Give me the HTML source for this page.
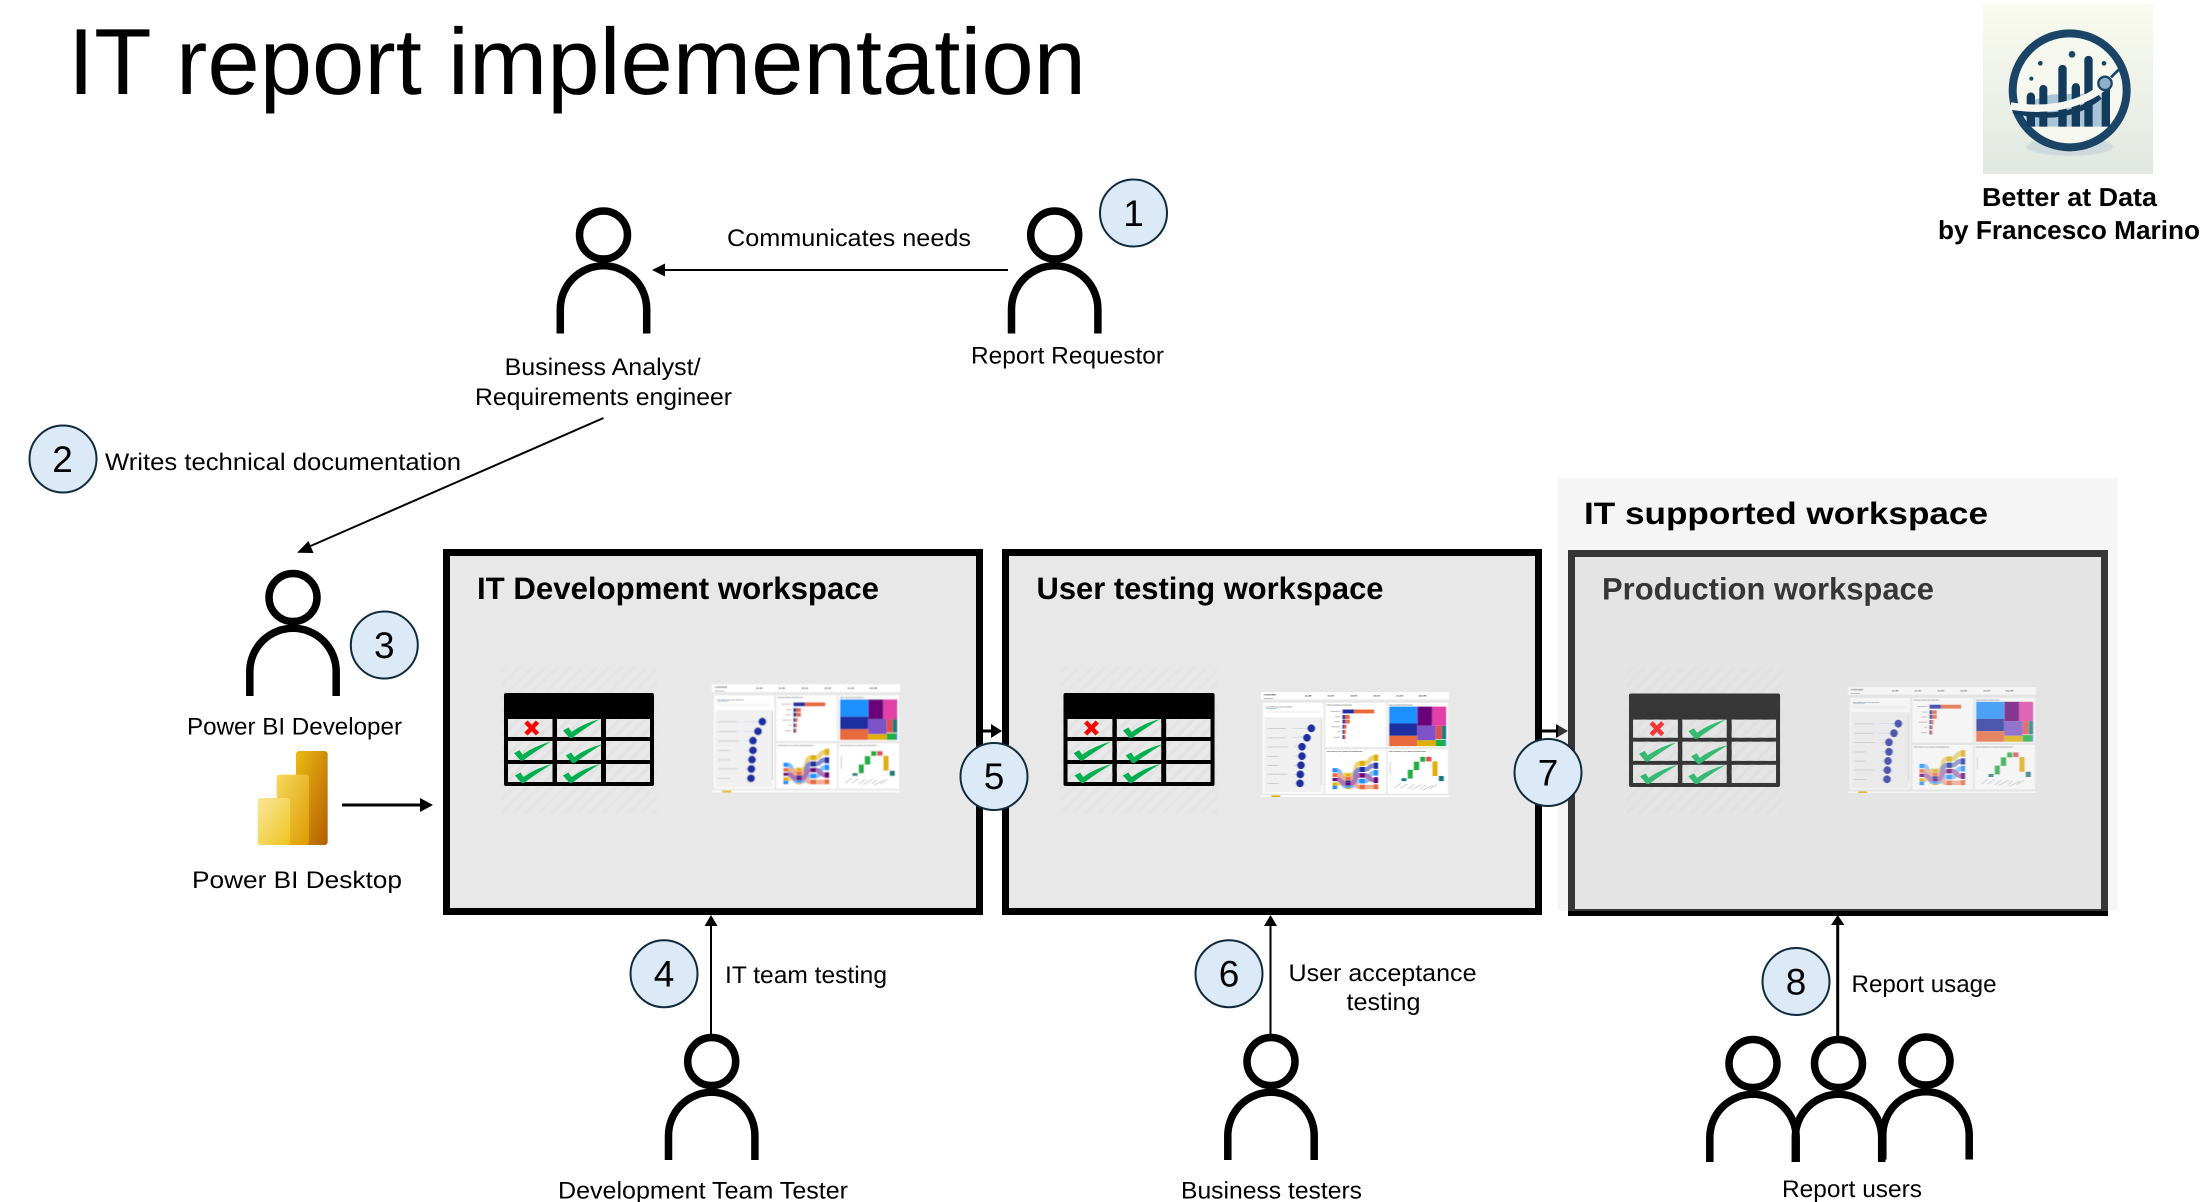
<!DOCTYPE html>
<html><head><meta charset="utf-8">
<style>
html,body{margin:0;padding:0;background:#fff;width:2206px;height:1202px;overflow:hidden}
svg{display:block}
text{font-family:"Liberation Sans",sans-serif;fill:#000;text-rendering:geometricPrecision}
.l{font-size:24px}
.h{font-size:31px;font-weight:bold}
.n{font-size:37px;text-anchor:middle}
.c{fill:#dce9f6;stroke:#0f2b3d;stroke-width:2}
.d{font-size:7px;fill:#333}
.b{font-weight:bold}
</style></head><body>
<svg width="2206" height="1202" viewBox="0 0 2206 1202" xmlns="http://www.w3.org/2000/svg">
<defs>
<pattern id="hatch" width="9" height="9" patternUnits="userSpaceOnUse" patternTransform="rotate(45)"><rect width="3.500" height="9" fill="#e2e2e2"/></pattern>
<filter id="soft" x="-5%" y="-5%" width="110%" height="110%"><feGaussianBlur stdDeviation="1.200"/></filter>
<linearGradient id="lg" x1="0" y1="0" x2="0" y2="1"><stop offset="0" stop-color="#fafbf0"/><stop offset="1" stop-color="#e1e8e1"/></linearGradient>
<linearGradient id="p1" x1="0" y1="0" x2="1" y2="1"><stop offset="0" stop-color="#ecbc14"/><stop offset="1" stop-color="#b35c00"/></linearGradient>
<linearGradient id="p2" x1="0" y1="0" x2="1" y2="1"><stop offset="0" stop-color="#f5d85c"/><stop offset="1" stop-color="#dd9a00"/></linearGradient>
<linearGradient id="p3" x1="0" y1="0" x2="1" y2="1"><stop offset="0" stop-color="#f9e79a"/><stop offset="1" stop-color="#efc41f"/></linearGradient>

<g id="person" fill="none" stroke="#000" stroke-width="7.5">
<circle cx="0" cy="0" r="24"/>
<path d="M-43.2 98.5V74A43.2 43.2 0 0 1 43.2 74V98.5"/>
</g>

<path id="tick" fill="#00b050" d="M0 11.5L5.5 8.5L8.5 13Q20 4.5 37 0Q23 8.5 9 19L6.5 19Z"/>
<g id="table">
<rect x="-3" y="-26" width="156" height="146" fill="url(#hatch)" opacity=".55"/>
<rect x="0" y="0" width="150" height="93" rx="2" fill="#000"/>
<g fill="#e9e9e9">
<rect x="4" y="26" width="44.5" height="18"/><rect x="53" y="26" width="44" height="18"/><rect x="102" y="26" width="44" height="18"/>
<rect x="4" y="48" width="44.5" height="19"/><rect x="53" y="48" width="44" height="19"/><rect x="102" y="48" width="44" height="19"/>
<rect x="4" y="71" width="44.5" height="18"/><rect x="53" y="71" width="44" height="18"/><rect x="102" y="71" width="44" height="18"/>
</g>
<g fill="url(#hatch)">
<rect x="4" y="26" width="44.5" height="18"/><rect x="53" y="26" width="44" height="18"/><rect x="102" y="26" width="44" height="18"/>
<rect x="4" y="48" width="44.5" height="19"/><rect x="53" y="48" width="44" height="19"/><rect x="102" y="48" width="44" height="19"/>
<rect x="4" y="71" width="44.5" height="18"/><rect x="53" y="71" width="44" height="18"/><rect x="102" y="71" width="44" height="18"/>
</g>
<path d="M22 29L33.500 41M33.500 29L22 41" stroke="#ff0000" stroke-width="4.500" fill="none"/>
<use href="#tick" x="59" y="26"/><use href="#tick" x="10" y="48.600"/><use href="#tick" x="61.700" y="51"/><use href="#tick" x="11" y="71"/><use href="#tick" x="59" y="71"/>
</g>

<g id="dash" filter="url(#soft)">
<rect x="66" y="43" width="564" height="23" fill="#fff"/>
<text x="74" y="54" class="d b" font-size="8">OVERVIEW</text><text x="74" y="64" class="d" style="font-size:5px">Sales Report</text>
<g class="d b"><text x="198" y="57" class="d b">$1.3M</text><text x="266" y="57" class="d b">$1.3M</text><text x="335" y="57" class="d b">$2.0M</text><text x="404" y="57" class="d b">$2.3M</text><text x="473" y="57" class="d b">$1.3M</text><text x="539" y="57" class="d b">$21.8M</text></g>
<g fill="#fff">
<rect x="72" y="76" width="181" height="280"/><rect x="259" y="76" width="182" height="137"/><rect x="446" y="76" width="181" height="137"/><rect x="259" y="220" width="182" height="136"/><rect x="446" y="220" width="181" height="136"/>
</g>
<rect x="66" y="362" width="564" height="5" fill="#fff"/><rect x="96" y="362" width="28" height="5" fill="#e0b000"/>
<text x="81" y="91" class="d" style="font-size:6px">Key influencers  Top segments</text>
<rect x="81" y="93" width="35" height="2" fill="#7db8e8"/>
<rect x="81" y="100" width="160" height="9" fill="#f5f5f5"/>
<rect x="76" y="120" width="172" height="232" fill="#f0f0f0"/>
<rect x="246" y="124" width="3" height="206" fill="#ccc"/>
<g fill="#ccc">
<rect x="85" y="154" width="56" height="3"/><rect x="85" y="183" width="56" height="3"/><rect x="85" y="211" width="62" height="3"/><rect x="85" y="240" width="34" height="3"/><rect x="85" y="268" width="34" height="3"/><rect x="85" y="295" width="60" height="3"/><rect x="85" y="324" width="34" height="3"/>
</g>
<g stroke="#c3d2ef" stroke-width="2"><path d="M160 155H210M160 184H198M165 212H183M165 241H183M165 269H180M165 297H178M165 325H177"/></g>
<g fill="#1a2ea0"><circle cx="217" cy="155" r="12"/><circle cx="204" cy="184" r="12"/><circle cx="189" cy="212" r="12"/><circle cx="189" cy="241" r="12"/><circle cx="186" cy="269" r="12"/><circle cx="184" cy="297" r="12"/><circle cx="183" cy="325" r="12"/></g>
<text x="263" y="84" class="d b" style="font-size:5px">Units by Country and Sales Rep</text>
<text x="450" y="84" class="d b" style="font-size:5px">Sales Amount by Brand Name</text>
<text x="263" y="228" class="d b" style="font-size:5px">Units Sold by Year, Quarter and Manufacturer</text>
<text x="450" y="228" class="d b" style="font-size:5px">Sales Amount by Year, Month and Brand Name</text>
<g fill="#1a2ea0"><rect x="310" y="97" width="35" height="12"/><rect x="310" y="114" width="9" height="12"/><rect x="310" y="128" width="9" height="12"/><rect x="310" y="144" width="6" height="12"/><rect x="310" y="160" width="5" height="12"/><rect x="310" y="176" width="5" height="12"/></g>
<g fill="#e8693a"><rect x="345" y="97" width="61" height="12"/><rect x="319" y="114" width="14" height="12"/><rect x="319" y="128" width="14" height="12"/><rect x="316" y="144" width="7" height="12"/><rect x="315" y="160" width="6" height="12"/><rect x="315" y="176" width="5" height="12"/></g>
<g fill="#bbb"><rect x="274" y="101" width="30" height="3"/><rect x="288" y="118" width="16" height="3"/><rect x="285" y="133" width="18" height="3"/><rect x="277" y="149" width="27" height="3"/><rect x="295" y="164" width="9" height="3"/><rect x="285" y="181" width="18" height="3"/></g>
<rect x="450" y="88" width="85" height="52" fill="#1e90ff"/><rect x="450" y="140" width="85" height="38" fill="#1a2ea0"/><rect x="450" y="178" width="85" height="32" fill="#e8693a"/>
<rect x="535" y="88" width="45" height="59" fill="#6a007a"/><rect x="580" y="88" width="42" height="59" fill="#e040a8"/><rect x="535" y="147" width="55" height="45" fill="#7b52c8"/><rect x="535" y="192" width="55" height="18" fill="#e0b000"/>
<rect x="590" y="147" width="18" height="41" fill="#e05050"/><rect x="608" y="147" width="14" height="41" fill="#167c80"/><rect x="590" y="190" width="28" height="20" fill="#1fb040"/><rect x="618" y="190" width="4" height="20" fill="#1e90ff"/>
<g fill="none" stroke-width="14" opacity=".55">
<path stroke="#e0b000" d="M295 327C310 327 305 299 320 299H335C355 299 345 263 362 263H378C392 263 390 246 404 246"/>
<path stroke="#1a2ea0" d="M295 312C310 312 305 319 320 319H335C350 319 345 282 362 282H378C392 282 390 270 404 270"/>
<path stroke="#1e90ff" d="M295 285C310 285 305 334 320 334H335C350 334 345 318 362 318H378C392 318 390 292 404 292"/>
<path stroke="#e8693a" d="M295 300C310 300 305 310 320 310H335C350 310 345 336 362 336H378C392 336 390 336 404 336"/>
<path stroke="#6a007a" d="M295 313C310 313 305 326 320 326H335C350 326 345 300 362 300H378C392 300 390 315 404 315"/>
</g>
<g fill="#1e90ff"><rect x="280" y="278" width="15" height="13"/><rect x="280" y="332" width="15" height="11"/><rect x="320" y="331" width="15" height="6"/><rect x="362" y="311" width="16" height="14"/><rect x="404" y="284" width="14" height="17"/></g>
<g fill="#e8693a"><rect x="280" y="294" width="15" height="11"/><rect x="320" y="306" width="15" height="8"/><rect x="362" y="329" width="16" height="14"/><rect x="404" y="328" width="14" height="15"/></g>
<g fill="#6a007a"><rect x="280" y="308" width="15" height="10"/><rect x="320" y="323" width="15" height="7"/><rect x="362" y="294" width="16" height="13"/><rect x="404" y="306" width="14" height="18"/></g>
<g fill="#e0b000"><rect x="280" y="322" width="15" height="10"/><rect x="320" y="295" width="15" height="8"/><rect x="320" y="338" width="15" height="5"/><rect x="362" y="255" width="16" height="16"/><rect x="404" y="236" width="14" height="20"/></g>
<g fill="#1a2ea0"><rect x="320" y="316" width="15" height="6"/><rect x="362" y="274" width="16" height="16"/><rect x="404" y="261" width="14" height="19"/></g>
<rect x="453" y="258" width="2" height="38" fill="#aaa"/>
<g fill="#167c80"><rect x="487" y="309" width="16" height="9"/><rect x="599" y="302" width="16" height="16"/></g>
<g fill="#1fb040"><rect x="506" y="283" width="16" height="27"/><rect x="524" y="258" width="17" height="26"/><rect x="543" y="243" width="16" height="15"/></g>
<rect x="561" y="243" width="17" height="14" fill="#e05050"/><rect x="580" y="257" width="16" height="45" fill="#e0b000"/>
<g stroke="#ccc" stroke-width="3"><path d="M466 340L486 324M485 340L505 326M506 342L526 328M518 344L548 328M545 342L560 330M552 346L582 330M572 342L594 328"/></g>
</g>
</defs>

<text x="68" y="94" font-size="94" textLength="1018" lengthAdjust="spacingAndGlyphs">IT report implementation</text>

<!-- logo -->
<g transform="translate(1900 0) scale(.33333)">
<rect x="249" y="12" width="510" height="510" fill="url(#lg)"/>
<ellipse cx="510" cy="440" rx="130" ry="28" fill="#b7c9d4" opacity=".5" filter="url(#soft)"/>
<circle cx="509" cy="271" r="171" fill="#f6f7ef" stroke="#1a4566" stroke-width="24"/>
<path d="M365 335L400 300L455 283L600 280L625 380H395Z" fill="#a9c4d6"/>
<g fill="#133c5c">
<path d="M380 380V290a12 12 0 0 1 25 0V380Z"/><path d="M418 380V267a12 12 0 0 1 24 0V380Z"/><path d="M475 380V207a12 12 0 0 1 25 0V380Z"/><path d="M515 380V262a12 12 0 0 1 25 0V380Z"/><path d="M553 380V180a12 12 0 0 1 25 0V380Z"/><path d="M605 380V262H630V380Z"/>
</g>
<path d="M340 332Q500 372 600 290" fill="none" stroke="#133c5c" stroke-width="16"/>
<path d="M332 318Q500 345 610 262" fill="none" stroke="#f6f7ef" stroke-width="22"/>
<path d="M633 232L662 203" stroke="#1a4566" stroke-width="8"/>
<circle cx="615" cy="250" r="20" fill="#8fb0c8" stroke="#1a4566" stroke-width="7"/>
<g fill="#1a4566"><circle cx="516" cy="163" r="10"/><circle cx="421" cy="190" r="7"/><circle cx="612" cy="190" r="7"/><circle cx="394" cy="236" r="6"/></g>
</g>
<text x="1982" y="206" font-size="26" class="b" textLength="175" lengthAdjust="spacingAndGlyphs">Better at Data</text>
<text x="1938" y="239" font-size="26" class="b" textLength="262" lengthAdjust="spacingAndGlyphs">by Francesco Marino</text>

<!-- persons -->
<use href="#person" x="603.500" y="235"/>
<use href="#person" x="1054.700" y="235"/>
<use href="#person" x="293" y="597.500"/>
<use href="#person" x="711.700" y="1061.500"/>
<use href="#person" x="1271" y="1061.500"/>
<use href="#person" x="1753" y="1063.500"/>
<use href="#person" x="1838.500" y="1063.500"/>
<use href="#person" x="1926" y="1061"/>

<!-- box 3 with overlay -->
<rect x="1571.500" y="553.500" width="533" height="359" fill="#e8e8e8" stroke="#000" stroke-width="7"/>
<text x="1602" y="599.500" class="h" textLength="332" lengthAdjust="spacingAndGlyphs">Production workspace</text>
<use href="#table" transform="translate(1629 693.500) scale(1.007 1.005)"/>
<use href="#dash" transform="translate(1826 673) scale(.33333 .327)"/>
<path d="M1542 731H1560" stroke="#000" stroke-width="3"/>
<path d="M1568 731L1556 724V738Z" fill="#000"/>
<rect x="1558" y="478" width="560" height="433" fill="#d8d8d8" fill-opacity=".25"/>
<text x="1584" y="524" class="h" textLength="404" lengthAdjust="spacingAndGlyphs">IT supported workspace</text>

<!-- box 1 -->
<rect x="446.500" y="552.500" width="533" height="359" fill="#e8e8e8" stroke="#000" stroke-width="7"/>
<text x="477" y="599" class="h" textLength="402" lengthAdjust="spacingAndGlyphs">IT Development workspace</text>
<use href="#table" transform="translate(504 693)"/>
<use href="#dash" transform="translate(690 670) scale(.33333)"/>

<!-- box 2 -->
<rect x="1005.500" y="552.500" width="533" height="359" fill="#e8e8e8" stroke="#000" stroke-width="7"/>
<text x="1036.500" y="599" class="h" textLength="347" lengthAdjust="spacingAndGlyphs">User testing workspace</text>
<use href="#table" transform="translate(1063.500 693) scale(1.007 1)"/>
<use href="#dash" transform="translate(1239 678.100) scale(.33333 .324)"/>

<!-- connectors -->
<path d="M1008 270H660" stroke="#000" stroke-width="2" fill="none"/>
<path d="M652 270L665 263.500V276.500Z" fill="#000"/>
<path d="M603.500 418L306 548" stroke="#000" stroke-width="2" fill="none"/>
<path d="M297 552.700L308.500 541L313.500 553Z" fill="#000"/>
<path d="M342 805H422" stroke="#000" stroke-width="3" fill="none"/>
<path d="M433 805L420 798V812Z" fill="#000"/>
<path d="M983 731H994" stroke="#000" stroke-width="3" fill="none"/>
<path d="M1002 731L991 724V738Z" fill="#000"/>
<path d="M711 1034V922" stroke="#000" stroke-width="2" fill="none"/>
<path d="M711 915L704.500 926H717.500Z" fill="#000"/>
<path d="M1270.500 1034V922" stroke="#000" stroke-width="2" fill="none"/>
<path d="M1270.500 915L1264 926H1277Z" fill="#000"/>
<path d="M1837.700 1037V922" stroke="#000" stroke-width="3" fill="none"/>
<path d="M1837.700 915L1831 925H1844.400Z" fill="#000"/>

<!-- power bi icon -->
<g transform="translate(180 560) scale(.33333)">
<rect x="348" y="573" width="95" height="282" rx="9" fill="url(#p1)"/>
<rect x="290" y="644" width="97" height="211" rx="9" fill="url(#p2)"/>
<rect x="233" y="714" width="97" height="141" rx="9" fill="url(#p3)"/>
</g>

<!-- labels -->
<text class="l" x="727" y="246" textLength="244" lengthAdjust="spacingAndGlyphs">Communicates needs</text>
<text class="l" x="971" y="363.500" textLength="193" lengthAdjust="spacingAndGlyphs">Report Requestor</text>
<text class="l" x="504.600" y="375" textLength="196" lengthAdjust="spacingAndGlyphs">Business Analyst/</text>
<text class="l" x="475" y="405" textLength="257" lengthAdjust="spacingAndGlyphs">Requirements engineer</text>
<text class="l" x="105" y="470" textLength="356" lengthAdjust="spacingAndGlyphs">Writes technical documentation</text>
<text class="l" x="187" y="734.500" textLength="215" lengthAdjust="spacingAndGlyphs">Power BI Developer</text>
<text class="l" x="192" y="888" textLength="210" lengthAdjust="spacingAndGlyphs">Power BI Desktop</text>
<text class="l" x="725" y="983" textLength="162" lengthAdjust="spacingAndGlyphs">IT team testing</text>
<text class="l" x="1288.500" y="981" textLength="188" lengthAdjust="spacingAndGlyphs">User acceptance</text>
<text class="l" x="1346.500" y="1010" textLength="74" lengthAdjust="spacingAndGlyphs">testing</text>
<text class="l" x="558" y="1198.500" textLength="290" lengthAdjust="spacingAndGlyphs">Development Team Tester</text>
<text class="l" x="1181" y="1198.500" textLength="181" lengthAdjust="spacingAndGlyphs">Business testers</text>
<text class="l" x="1782" y="1197" textLength="140" lengthAdjust="spacingAndGlyphs">Report users</text>
<text class="l" x="1851.500" y="992" textLength="145" lengthAdjust="spacingAndGlyphs">Report usage</text>

<!-- numbered circles -->
<circle class="c" cx="1133.500" cy="213" r="33.500"/><text class="n" x="1133.500" y="226">1</text>
<circle class="c" cx="63" cy="459" r="33.500"/><text class="n" x="62.500" y="472">2</text>
<circle class="c" cx="384.300" cy="645" r="33.500"/><text class="n" x="384.300" y="658">3</text>
<circle class="c" cx="664" cy="973.700" r="33.500"/><text class="n" x="664" y="986.500">4</text>
<circle class="c" cx="994" cy="776.500" r="33.500"/><text class="n" x="994" y="789">5</text>
<circle class="c" cx="1229" cy="973.700" r="33.500"/><text class="n" x="1229" y="986.500">6</text>
<circle class="c" cx="1548" cy="772.500" r="33.500"/><text class="n" x="1548" y="785.500">7</text>
<circle class="c" cx="1796" cy="981.500" r="33.500"/><text class="n" x="1796" y="994.500">8</text>
</svg>
</body></html>
